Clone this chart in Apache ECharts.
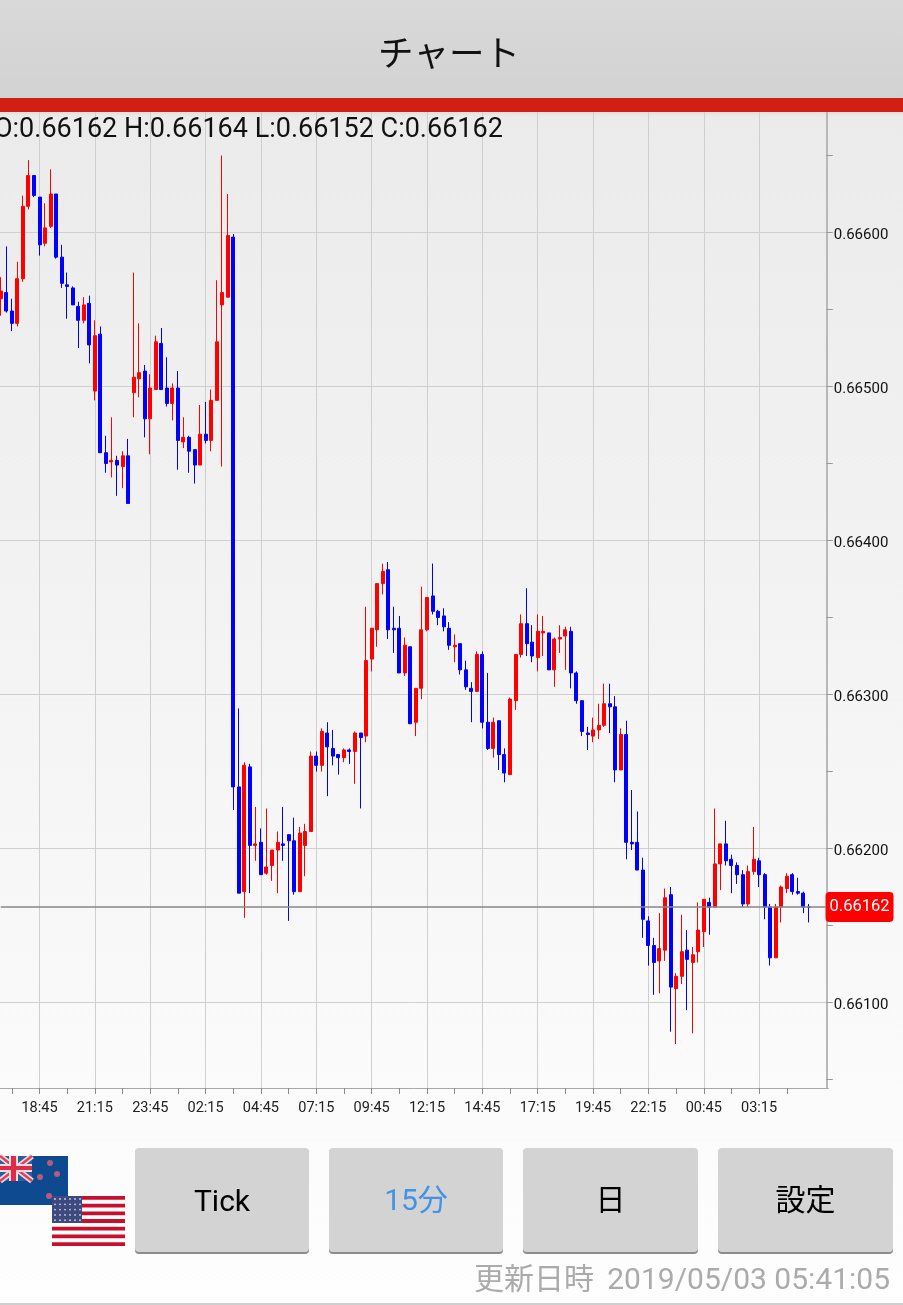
<!DOCTYPE html>
<html lang="ja">
<head>
<meta charset="utf-8">
<title>チャート</title>
<style>html,body{margin:0;padding:0;background:#fff}#c{width:903px;height:1305px}</style>
<script src="https://cdn.jsdelivr.net/npm/echarts@6/dist/echarts.min.js"></script>
</head>
<body>
<div id="c"></div>
<script>
const opens = [
0.66557,0.66561,0.66549,0.66541,0.66570,0.66617,0.66637,0.66623,0.66593,0.66604,
0.66625,0.66584,0.66566,0.66564,0.66552,0.66543,0.66554,0.66497,0.66534,0.66457,
0.66451,0.66452,0.66448,0.66455,0.66496,0.66505,0.66510,0.66479,0.66498,0.66528,
0.66499,0.66489,0.66499,0.66464,0.66467,0.66459,0.66449,0.66469,0.66465,0.66491,
0.66553,0.66558,0.66597,0.66240,0.66172,0.66253,0.66202,0.66204,0.66184,0.66189,
0.66199,0.66203,0.66209,0.66205,0.66172,0.66202,0.66211,0.66260,0.66254,0.66275,
0.66265,0.66261,0.66259,0.66264,0.66263,0.66275,0.66273,0.66323,0.66342,0.66372,
0.66381,0.66343,0.66343,0.66314,0.66331,0.66282,0.66304,0.66342,0.66364,0.66354,
0.66351,0.66343,0.66331,0.66333,0.66316,0.66304,0.66302,0.66326,0.66282,0.66265,
0.66283,0.66261,0.66248,0.66296,0.66326,0.66346,0.66334,0.66324,0.66340,0.66340,
0.66316,0.66336,0.66338,0.66341,0.66314,0.66296,0.66275,0.66273,0.66277,0.66280,
0.66294,0.66292,0.66251,0.66274,0.66204,0.66204,0.66186,0.66153,0.66137,0.66127,
0.66134,0.66170,0.66109,0.66117,0.66134,0.66126,0.66133,0.66146,0.66165,0.66162,
0.66190,0.66203,0.66193,0.66189,0.66183,0.66164,0.66185,0.66192,0.66183,0.66162,
0.66129,0.66162,0.66174,0.66183,0.66172,0.66171,0.66162];
const closes = [
0.66562,0.66549,0.66541,0.66570,0.66617,0.66637,0.66624,0.66592,0.66603,0.66625,
0.66584,0.66567,0.66565,0.66553,0.66543,0.66553,0.66527,0.66533,0.66457,0.66450,
0.66452,0.66449,0.66455,0.66424,0.66506,0.66509,0.66479,0.66499,0.66529,0.66498,
0.66489,0.66499,0.66465,0.66467,0.66458,0.66449,0.66469,0.66465,0.66491,0.66529,
0.66561,0.66598,0.66240,0.66171,0.66254,0.66202,0.66203,0.66183,0.66188,0.66199,
0.66204,0.66202,0.66205,0.66172,0.66210,0.66211,0.66260,0.66254,0.66276,0.66266,
0.66260,0.66259,0.66264,0.66263,0.66275,0.66272,0.66322,0.66343,0.66372,0.66380,
0.66342,0.66342,0.66314,0.66332,0.66281,0.66304,0.66342,0.66363,0.66354,0.66350,
0.66344,0.66332,0.66332,0.66316,0.66305,0.66302,0.66326,0.66282,0.66265,0.66282,
0.66261,0.66249,0.66297,0.66326,0.66346,0.66333,0.66325,0.66341,0.66341,0.66316,
0.66336,0.66337,0.66342,0.66314,0.66296,0.66276,0.66274,0.66277,0.66280,0.66294,
0.66292,0.66251,0.66274,0.66204,0.66203,0.66186,0.66154,0.66137,0.66126,0.66135,
0.66168,0.66110,0.66117,0.66133,0.66128,0.66131,0.66147,0.66167,0.66162,0.66190,
0.66203,0.66192,0.66189,0.66183,0.66164,0.66185,0.66193,0.66183,0.66162,0.66129,
0.66162,0.66175,0.66182,0.66172,0.66171,0.66162,0.66162];
const highs = [
0.66571,0.66591,0.66557,0.66581,0.66624,0.66647,0.66637,0.66623,0.66619,0.66641,
0.66625,0.66592,0.66574,0.66565,0.66555,0.66558,0.66559,0.66543,0.66539,0.66468,
0.66480,0.66455,0.66458,0.66466,0.66574,0.66541,0.66514,0.66508,0.66533,0.66538,
0.66519,0.66502,0.66510,0.66480,0.66468,0.66459,0.66488,0.66490,0.66498,0.66569,
0.66650,0.66625,0.66599,0.66291,0.66256,0.66255,0.66227,0.66213,0.66226,0.66199,
0.66211,0.66227,0.66209,0.66220,0.66214,0.66216,0.66263,0.66263,0.66278,0.66282,
0.66277,0.66261,0.66265,0.66265,0.66276,0.66275,0.66357,0.66343,0.66372,0.66385,
0.66386,0.66357,0.66351,0.66337,0.66331,0.66304,0.66370,0.66363,0.66385,0.66355,
0.66356,0.66347,0.66339,0.66333,0.66322,0.66308,0.66328,0.66328,0.66314,0.66285,
0.66283,0.66265,0.66298,0.66326,0.66352,0.66369,0.66345,0.66352,0.66351,0.66340,
0.66337,0.66345,0.66344,0.66344,0.66315,0.66296,0.66279,0.66285,0.66294,0.66307,
0.66307,0.66299,0.66278,0.66283,0.66238,0.66224,0.66194,0.66156,0.66142,0.66158,
0.66174,0.66175,0.66119,0.66157,0.66147,0.66136,0.66165,0.66167,0.66168,0.66226,
0.66203,0.66218,0.66196,0.66191,0.66186,0.66189,0.66214,0.66194,0.66184,0.66164,
0.66164,0.66176,0.66184,0.66184,0.66181,0.66172,0.66164];
const lows = [
0.66546,0.66548,0.66536,0.66539,0.66568,0.66615,0.66623,0.66585,0.66591,0.66603,
0.66583,0.66564,0.66544,0.66553,0.66525,0.66541,0.66515,0.66491,0.66457,0.66444,
0.66441,0.66429,0.66434,0.66424,0.66480,0.66493,0.66467,0.66456,0.66498,0.66498,
0.66487,0.66478,0.66446,0.66460,0.66444,0.66437,0.66449,0.66463,0.66458,0.66491,
0.66448,0.66558,0.66225,0.66171,0.66155,0.66171,0.66192,0.66183,0.66183,0.66179,
0.66171,0.66192,0.66153,0.66170,0.66172,0.66182,0.66211,0.66250,0.66250,0.66234,
0.66254,0.66248,0.66256,0.66255,0.66242,0.66226,0.66269,0.66315,0.66331,0.66365,
0.66336,0.66327,0.66314,0.66312,0.66281,0.66273,0.66297,0.66341,0.66352,0.66345,
0.66341,0.66329,0.66321,0.66313,0.66303,0.66282,0.66302,0.66278,0.66264,0.66259,
0.66251,0.66243,0.66248,0.66290,0.66324,0.66325,0.66321,0.66315,0.66325,0.66316,
0.66305,0.66327,0.66316,0.66304,0.66294,0.66273,0.66264,0.66269,0.66271,0.66279,
0.66275,0.66243,0.66251,0.66193,0.66199,0.66186,0.66142,0.66124,0.66105,0.66106,
0.66127,0.66081,0.66073,0.66112,0.66095,0.66080,0.66126,0.66136,0.66144,0.66162,
0.66173,0.66189,0.66171,0.66177,0.66162,0.66162,0.66183,0.66175,0.66154,0.66124,
0.66129,0.66152,0.66171,0.66170,0.66170,0.66158,0.66152];

const yLabelValues = [0.661,0.662,0.663,0.664,0.665,0.666];
const yTickValues = [0.6605,0.661,0.6615,0.662,0.6625,0.663,0.6635,0.664,0.6645,0.665,0.6655,0.666,0.6665];
const lastPrice = 0.66162;
const ohlcText = 'O:0.66162 H:0.66164 L:0.66152 C:0.66162';
const startMinutes = 17 * 60;
const emptySlots = 3;

const categories = [];
for (let i = 0; i < opens.length + emptySlots; i++) {
  const m = (startMinutes + i * 15) % 1440;
  categories.push(String(Math.floor(m / 60)).padStart(2, '0') + ':' + String(m % 60).padStart(2, '0'));
}
const candles = opens.map((o, i) => [o, closes[i], lows[i], highs[i]]);
const lastPriceLine = categories.map(() => lastPrice);

const cjk = 'Roboto, "Noto Sans CJK JP", sans-serif';
const latin = 'Roboto, sans-serif';

const graphics = [];
function rect(x, y, w, h, fill, z, r) {
  graphics.push({type:'rect', silent:true, z:z, shape:{x:x,y:y,width:w,height:h,r:r||0}, style:{fill:fill}});
}
function text(x, y, s, font, size, fill, align, z) {
  graphics.push({type:'text', silent:true, z:z||30, x:x, y:y,
    style:{text:s, fontFamily:font, fontSize:size, fill:fill, textAlign:align||'center', textVerticalAlign:'middle'}});
}
function vGrad(a, b) {
  return new echarts.graphic.LinearGradient(0,0,0,1,[{offset:0,color:a},{offset:1,color:b}]);
}
function seg(p, q, color, w, z) {
  graphics.push({type:'polyline',silent:true,z:z,shape:{points:[p,q]},style:{stroke:color,lineWidth:w}});
}
// page background and frame
rect(0,112,903,1193,vGrad('#ebebeb','#fefefe'),-10);
rect(0,112,903,6,vGrad('#dcdcdc','rgba(235,235,235,0)'),-9);
rect(0,1303,903,2,'#cfcfcf',-9);
rect(0,0,903,98,vGrad('#d9d9d9','#d2d2d2'),20);
rect(0,98,903,14,'#d02013',20);
text(449,57,'チャート',cjk,35.5,'#111','center');
text(-6,130,ohlcText,latin,27,'#111','left');

// buttons
const buttons = [
  {x:135,w:174,label:'Tick',font:latin,color:'#000',dy:1},
  {x:329,w:174,label:'15分',font:cjk,color:'#4193ea',dy:0},
  {x:523,w:175,label:'日',font:cjk,color:'#000',dy:0},
  {x:718,w:175,label:'設定',font:cjk,color:'#000',dy:0}
];
buttons.forEach(b=>{
  rect(b.x,1149,b.w,105,'#8c8c8c',20,4);
  rect(b.x,1148,b.w,104,'#d3d3d3',21,4);
  text(b.x+b.w/2,1202+b.dy,b.label,b.font,30,b.color);
});
text(594,1281,'更新日時',cjk,30,'#ababab','right');
text(890,1281,'2019/05/03 05:41:05',latin,30,'#ababab','right');

// flags
rect(0,1156,68,49,'#0d4a8f',22);
rect(0,1156,32,25,'#2a5f9e',22);
seg([0,1156],[32,1181],'#f0d8dc',6,23);
seg([0,1181],[32,1156],'#f0d8dc',6,23);
seg([0,1156],[32,1181],'#e0405a',2.5,23);
seg([0,1181],[32,1156],'#e0405a',2.5,23);
rect(0,1164,32,8,'#f4dde0',23); rect(9,1156,9,25,'#f4dde0',23);
rect(0,1166,32,4,'#e02a48',24); rect(11,1156,5,25,'#e02a48',24);
[[50,1163],[40,1177],[57,1174],[49,1196]].forEach(p=>{
  graphics.push({type:'circle',silent:true,z:23,shape:{cx:p[0],cy:p[1],r:3},style:{fill:'#b85a80'}});
});
rect(52,1196,73,50,'#fdfdfd',24);
for (let s=0;s<7;s++) rect(52,1196+s*7.7,73,3.8,'#c8102e',25);
rect(52,1196,30,27,'#3c4a80',26);
for (let a=0;a<5;a++) for (let b=0;b<6;b++)
  graphics.push({type:'circle',silent:true,z:27,shape:{cx:55+b*5,cy:1199+a*5.3,r:0.9},style:{fill:'#cfd3e6'}});

const chart = echarts.init(document.getElementById('c'), null, {renderer:'canvas'});
const majorGrid = '#cfcfcf';
chart.setOption({
  animation:false,
  graphic:{elements:graphics},
  grid:{left:-2,top:112,width:830.3,height:976,outerBoundsMode:'none'},
  xAxis:{
    type:'category',
    data:categories,
    boundaryGap:true,
    axisLine:{show:true,lineStyle:{color:'#a8a8a8',width:1}},
    axisTick:{show:true,alignWithLabel:true,length:6,interval:(i)=>i%5===2&&i<145,lineStyle:{color:'#8a8a8a'}},
    axisLabel:{show:true,interval:(i)=>i%10===7&&i<140,margin:13,color:'#222',fontFamily:latin,fontSize:14.5,hideOverlap:false},
    splitLine:{show:true,alignWithLabel:true,interval:(i)=>i%10===7&&i<140,lineStyle:{color:majorGrid,width:1}}
  },
  yAxis:{
    type:'value',
    position:'right',
    min:0.6604448,
    max:0.6667825,
    offset:-2,
    scale:true,
    axisLine:{show:true,lineStyle:{color:'#b8b8b8',width:2}},
    axisTick:{show:true,length:6.5,customValues:yTickValues,lineStyle:{color:'#999'}},
    axisLabel:{show:true,margin:7.5,customValues:yLabelValues,color:'#111',fontFamily:latin,fontSize:15,
      formatter:(v)=>'{a|'+v.toFixed(5)+'}',rich:{a:{color:'#111',fontFamily:latin,fontSize:15,padding:[5,0,0,0]}}},
    splitLine:{show:true,showMaxLine:false,lineStyle:{color:['rgba(0,0,0,0)',majorGrid],width:1}}
  },
  series:[{
    type:'candlestick',
    data:candles,
    barWidth:3.5,
    itemStyle:{color:'#ff0000',color0:'#0000ff',borderColor:'#ff0000',borderColor0:'#0000ff',borderColorDoji:'#0000ff',borderWidth:1}
  },{
    type:'line',
    data:lastPriceLine,
    symbol:'none',
    silent:true,
    z:5,
    clip:false,
    lineStyle:{color:'#868686',width:1.6},
    endLabel:{show:true,distance:0,formatter:()=>lastPrice.toFixed(5),
      color:'#fff',fontFamily:latin,fontSize:16.5,backgroundColor:'#ff0000',borderRadius:4,padding:[7,4,6,4],lineHeight:17}
  }]
});
</script>
</body>
</html>
